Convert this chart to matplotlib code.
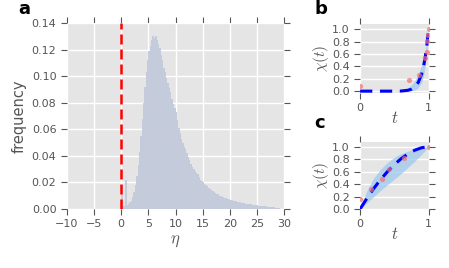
import numpy as np
import matplotlib
matplotlib.use("Agg")
import matplotlib.pyplot as plt

plt.rcParams["mathtext.fontset"] = "cm"

# ---------------- data ----------------
# histogram (panel a): bin width 0.25 from 0 to 30
hist_bin_width = 0.25
hist_start = 0.0
hist_freq = [
    0.011, 0.002, 0.002, 0.022,
    0.003, 0.004, 0.005, 0.006,
    0.009, 0.013, 0.018, 0.025,
    0.033, 0.043, 0.055, 0.068,
    0.080, 0.092, 0.103, 0.112,
    0.119, 0.123, 0.127, 0.130,
    0.129, 0.130, 0.127, 0.124,
    0.121, 0.116, 0.112, 0.106,
    0.103, 0.099, 0.095, 0.091,
    0.088, 0.083, 0.079, 0.076,
    0.073, 0.067, 0.061, 0.057,
    0.053, 0.050, 0.047, 0.045,
    0.042, 0.039, 0.037, 0.034,
    0.032, 0.030, 0.029, 0.027,
    0.026, 0.024, 0.022, 0.021,
    0.020, 0.019, 0.018, 0.017,
    0.016, 0.015, 0.014, 0.0135,
    0.013, 0.012, 0.0115, 0.011,
    0.010, 0.0097, 0.0092, 0.0088,
    0.0083, 0.008, 0.0076, 0.0072,
    0.0068, 0.0065, 0.0062, 0.006,
    0.0057, 0.0055, 0.0052, 0.005,
    0.0047, 0.0045, 0.0043, 0.0041,
    0.004, 0.0038, 0.0036, 0.0035,
    0.0033, 0.0032, 0.003, 0.0028,
    0.0027, 0.0026, 0.0025, 0.0023,
    0.0022, 0.0021, 0.002, 0.0018,
    0.0017, 0.0016, 0.0015, 0.0014,
    0.0012, 0.0011, 0.0010, 0.0008,
    0.0006, 0.0004, 0.0002, 0.0,
]
a_xticks = [-10, -5, 0, 5, 10, 15, 20, 25, 30]
a_yticks = [0.00, 0.02, 0.04, 0.06, 0.08, 0.10, 0.12, 0.14]

# panel b
b_pts_t = [0.0, 0.71, 0.86, 0.945, 0.97, 0.98, 0.99, 1.0]
b_pts_x = [0.08, 0.175, 0.26, 0.54, 0.63, 0.81, 0.91, 1.0]
b_line_t = [0.0, 0.1, 0.2, 0.3, 0.4, 0.5, 0.6, 0.7, 0.75, 0.8, 0.85, 0.9, 0.925, 0.95, 0.975, 1.0]
b_line_x = [0.0, 0.0, 0.0, 0.0, 0.0, 0.0, 0.002, 0.014, 0.032, 0.069, 0.142, 0.282, 0.392, 0.540, 0.738, 1.0]
b_band_lo = [0.0, 0.0, 0.0, 0.0, 0.0, 0.0, 0.0, 0.002, 0.006, 0.018, 0.054, 0.150, 0.245, 0.397, 0.634, 1.0]
b_band_hi = [0.0, 0.0, 0.0, 0.0, 0.001, 0.004, 0.017, 0.058, 0.100, 0.168, 0.272, 0.430, 0.536, 0.663, 0.817, 1.0]

# panel c
c_pts_t = [0.0, 0.16, 0.32, 0.42, 0.64, 1.0]
c_pts_x = [0.155, 0.32, 0.49, 0.65, 0.82, 0.99]
c_line_t = [0.0, 0.1, 0.2, 0.3, 0.4, 0.5, 0.6, 0.7, 0.8, 0.9, 1.0]
c_line_x = [0.0, 0.173, 0.331, 0.474, 0.601, 0.713, 0.808, 0.885, 0.945, 0.984, 1.0]
c_band_lo = [0.0, 0.10, 0.20, 0.30, 0.39, 0.48, 0.57, 0.67, 0.77, 0.88, 1.0]
c_band_hi = [0.0, 0.30, 0.50, 0.64, 0.75, 0.83, 0.89, 0.93, 0.96, 0.985, 1.0]
bc_xticks = [0, 1]
bc_yticks = [0.0, 0.2, 0.4, 0.6, 0.8, 1.0]

# ---------------- style ----------------
BG = "#E5E5E5"
TICKC = "#555555"

fig = plt.figure(figsize=(4.49, 2.68), dpi=100)

def style(ax, fs):
    ax.set_facecolor(BG)
    for s in ax.spines.values():
        s.set_visible(False)
    ax.grid(True, color="white", lw=1.0)
    ax.set_axisbelow(True)
    ax.tick_params(direction="out", top=True, right=True, length=4,
                   width=0.8, color=TICKC, labelcolor=TICKC, labelsize=fs)

# panel a
ax = fig.add_axes([0.149, 0.220, 0.484, 0.694])
style(ax, 8)
edges = hist_start + hist_bin_width * np.arange(len(hist_freq))
ax.bar(edges, hist_freq, width=hist_bin_width, align="edge",
       color="#c3cadb", alpha=0.95, linewidth=0)
ax.axvline(0, color="red", lw=1.8, dashes=(4, 2))
ax.set_xlim(-10, 30)
ax.set_ylim(0, 0.14)
ax.set_xticks(a_xticks)
ax.set_yticks(a_yticks)
ax.set_yticklabels([f"{v:.2f}" for v in a_yticks])
ax.set_xticklabels([("\u2212" + str(-v)) if v < 0 else str(v) for v in a_xticks])
ax.set_ylabel("frequency", fontsize=10.5, color=TICKC, labelpad=4)
ax.set_xlabel(r"$\eta$", fontsize=12, color=TICKC, labelpad=1)

def small(ax, pts_t, pts_x, lt, lx, lo, hi, ylim):
    style(ax, 8)
    ax.fill_between(lt, lo, hi, color="#9fc8ee", alpha=0.75, lw=0)
    ax.plot(lt, lx, color="blue", lw=2.2, dashes=(4, 2.5))
    ax.scatter(pts_t, pts_x, s=14, color="#f07070", alpha=0.7, lw=0, zorder=3)
    ax.set_xlim(0, 1.01)
    ax.set_ylim(*ylim)
    ax.set_xticks(bc_xticks)
    ax.set_yticks(bc_yticks)
    ax.set_yticklabels([f"{v:.1f}" for v in bc_yticks])
    ax.set_ylabel(r"$\chi(t)$", fontsize=11, color=TICKC, labelpad=1)
    ax.set_xlabel(r"$t$", fontsize=12, color=TICKC, labelpad=-3)

axb = fig.add_axes([0.802, 0.653, 0.154, 0.257])
small(axb, b_pts_t, b_pts_x, b_line_t, b_line_x, b_band_lo, b_band_hi, (-0.03, 1.085))
axc = fig.add_axes([0.802, 0.220, 0.154, 0.250])
small(axc, c_pts_t, c_pts_x, c_line_t, c_line_x, c_band_lo, c_band_hi, (0.0, 1.075))

fig.text(0.040, 0.968, "a", fontsize=13, fontweight="bold", ha="left", va="center")
fig.text(0.700, 0.968, "b", fontsize=13, fontweight="bold", ha="left", va="center")
fig.text(0.700, 0.540, "c", fontsize=13, fontweight="bold", ha="left", va="center")

fig.savefig("out.png", dpi=100)
